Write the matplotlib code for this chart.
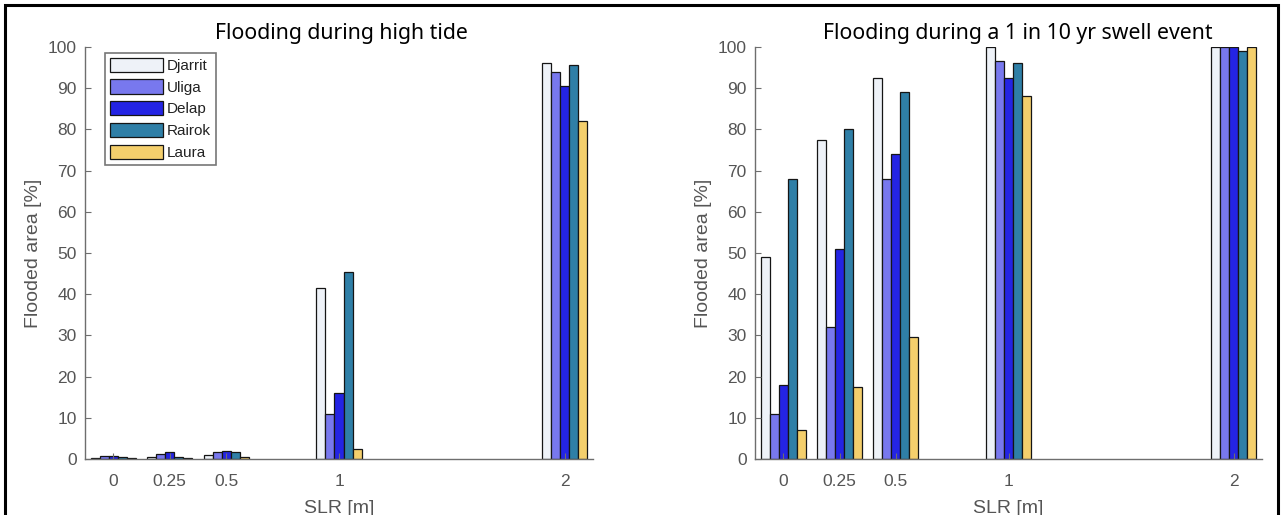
import numpy as np
import matplotlib
matplotlib.use("Agg")
import matplotlib.pyplot as plt
from matplotlib.patches import Rectangle

# Daten
slr = [0, 0.25, 0.5, 1, 2]
sites = ["Djarrit", "Uliga", "Delap", "Rairok", "Laura"]
colors = ["#eef2f8", "#7878ee", "#2424e4", "#2f7fa7", "#f4cf6c"]

# Überflutung bei Hochwasser (%)
tide_djarrit = [0.3, 0.5, 1.0, 41.5, 96.0]
tide_uliga = [0.8, 1.2, 1.6, 11.0, 94.0]
tide_delap = [0.8, 1.7, 1.9, 16.0, 90.5]
tide_rairok = [0.5, 0.6, 1.6, 45.5, 95.7]
tide_laura = [0.2, 0.2, 0.4, 2.5, 82.0]

# Überflutung bei 1-in-10-Jahre Dünung (%)
swell_djarrit = [49.0, 77.5, 92.5, 100.0, 100.0]
swell_uliga = [11.0, 32.0, 68.0, 96.5, 100.0]
swell_delap = [18.0, 51.0, 74.0, 92.5, 100.0]
swell_rairok = [68.0, 80.0, 89.0, 96.0, 99.0]
swell_laura = [7.0, 17.5, 29.5, 88.0, 100.0]

tide = [tide_djarrit, tide_uliga, tide_delap, tide_rairok, tide_laura]
swell = [swell_djarrit, swell_uliga, swell_delap, swell_rairok, swell_laura]

plt.rcParams['font.family'] = ['Liberation Sans', 'DejaVu Sans']

fig = plt.figure(figsize=(12.83, 5.15), dpi=100)
ax1 = fig.add_axes([85 / 1283, 56 / 515, 508 / 1283, 412 / 515])
ax2 = fig.add_axes([755 / 1283, 56 / 515, 507 / 1283, 412 / 515])

bw = 0.04
x = np.array(slr)


def draw(ax, series):
    for i, vals in enumerate(series):
        ax.bar(x + (i - 2) * bw, vals, width=bw, color=colors[i], edgecolor="#151515",
               linewidth=0.9, label=sites[i])
    ax.set_xlim(-0.125, 2.125)
    ax.set_ylim(0, 100)
    ax.set_xticks(slr)
    ax.set_xticklabels(["0", "0.25", "0.5", "1", "2"])
    ax.set_yticks(np.arange(0, 101, 10))
    for s in ["top", "right"]:
        ax.spines[s].set_visible(False)
    for s in ["left", "bottom"]:
        ax.spines[s].set_color("#6e6e6e")
        ax.spines[s].set_linewidth(1.0)
    ax.tick_params(direction="in", length=4, width=0.8, color="#6e6e6e",
                   labelcolor="#555555", labelsize=12.5)
    ax.tick_params(axis="x", pad=11)
    ax.tick_params(axis="y", pad=6)
    ax.set_xlabel("SLR [m]", fontsize=14, color="#555555", labelpad=8)
    ax.set_ylabel("Flooded area [%]", fontsize=14, color="#555555", labelpad=4)


draw(ax1, tide)
draw(ax2, swell)

leg = ax1.legend(loc="upper left", bbox_to_anchor=(0.04, 0.985), fontsize=11,
                 handlelength=3.5, handleheight=1.05, labelspacing=0.42,
                 handletextpad=0.25, borderpad=0.3, borderaxespad=0.0,
                 fancybox=False, framealpha=1, edgecolor="#777777")
leg.get_frame().set_linewidth(1.2)
for t in leg.get_texts():
    t.set_color("#222222")

title_box = dict(boxstyle="square,pad=0.15", facecolor="white", edgecolor="none")
fig.text(341 / 1283, 1 - 33 / 515, "Flooding during high tide", family="Noto Sans",
         fontsize=15.3, ha="center", va="center", bbox=title_box)
fig.text(1018 / 1283, 1 - 33 / 515, "Flooding during a 1 in 10 yr swell event",
         family="Noto Sans", fontsize=15.3, ha="center", va="center", bbox=title_box)

# Rahmen um die ganze Grafik
fig.patches.append(Rectangle((5 / 1283, -0.05), 1273 / 1283, 1.05 - 5 / 515,
                             transform=fig.transFigure, fill=False,
                             edgecolor="black", linewidth=2.2))

fig.savefig("out.png", dpi=100)
